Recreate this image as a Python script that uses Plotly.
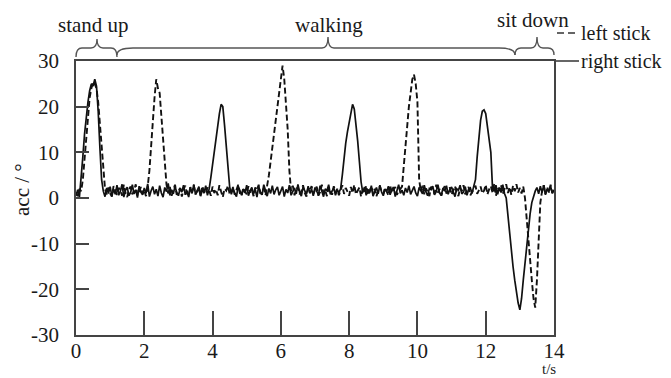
import plotly.graph_objects as go

# ---- data (one row = one second, step 0.05 s) ----
right_stick = (
    [0.5, 1.8, 0.2, 4, 9, 14, 18, 21, 23.5, 25, 24.5, 26, 24.5, 19, 11, 4, 1.5, 0.3, 2.2, 1.0]
    + [2.5, 0.4, 1.9, 0.8, 2.8, 0.6, 1.5, 3.0, 0.2, 1.7, 2.4, 0.5, 1.2, 2.9, 0.9, 1.8, 0.1, 2.6, 1.3, 0.7]
    + [2.2, 1.0, 3.1, 0.3, 1.6, 2.5, 0.8, 1.9, 0.4, 2.7, 1.1, 0.2, 2.3, 1.4, 3.2, 0.6, 1.8, 0.9, 2.6, 1.2]
    + [0.5, 2.1, 1.3, 2.8, 0.7, 1.6, 0.2, 2.4, 1.0, 3.0, 0.8, 1.7, 2.5, 0.4, 1.9, 1.1, 2.7, 0.6, 2.0, 4.5]
    + [7.5, 10.5, 13.5, 16.5, 18.5, 20.5, 20, 16, 11, 6, 2.5, 0.8, 2.2, 1.0, 0.3, 2.6, 1.4, 0.6, 2.0, 1.1]
    + [2.8, 0.5, 1.6, 2.3, 0.9, 1.9, 0.2, 2.6, 1.3, 0.7, 2.9, 1.5, 0.4, 2.1, 1.0, 2.7, 0.8, 1.8, 2.4, 0.6]
    + [1.7, 2.5, 0.3, 1.9, 1.1, 2.8, 0.6, 1.4, 2.2, 0.9, 3.0, 1.2, 0.4, 2.4, 1.6, 0.8, 2.6, 1.0, 1.9, 0.5]
    + [2.3, 1.4, 0.7, 2.7, 1.2, 0.3, 2.0, 1.6, 2.9, 0.8, 1.5, 2.2, 0.6, 1.8, 1.2, 2.0, 5.0, 9.0, 12.0, 14.5]
    + [16.5, 19, 20.5, 19.5, 16.5, 12.5, 8, 3.5, 1.2, 2.4, 0.6, 1.9, 1.1, 2.7, 0.4, 1.6, 2.3, 0.9, 2.8, 1.3]
    + [0.5, 2.0, 1.4, 2.6, 0.7, 1.8, 2.4, 0.3, 1.5, 2.9, 1.0, 1.7, 0.6, 2.2, 1.2, 2.7, 0.8, 1.9, 2.5, 1.1]
    + [0.4, 2.3, 1.6, 0.9, 2.8, 1.3, 0.5, 2.1, 1.8, 2.6, 0.7, 1.4, 2.9, 1.0, 0.6, 2.2, 1.5, 2.7, 0.8, 1.9]
    + [2.4, 1.1, 0.3, 2.0, 1.7, 2.8, 0.9, 1.3, 2.5, 0.6, 1.9, 2.2, 1.0, 2.6, 4, 9, 14, 17, 19, 19.3]
    + [18.5, 16, 13, 10, 2, 1.5, 2.8, 0.8, 2.3, 1.2, 2.9, 1.0, 0, -4, -8, -12, -15, -18, -21, -23]
    + [-24.5, -22, -18, -14, -10, -7, -3.5, -1, 0.5, 1.5, 2.3, 0.9, 2.6, 1.2, 2.8, 0.7, 2.0, 1.4, 2.6, 1.0]
    + [1.8]
)

left_stick = (
    [1.2, 0.4, 2.0, 1.5, 4, 9, 14, 19, 22, 24, 25.5, 25, 24, 21, 16, 10, 5, 2, 0.8, 2.3]
    + [1.0, 0.3, 2.6, 1.4, 0.7, 2.2, 1.8, 0.5, 2.9, 1.1, 0.2, 1.9, 2.5, 0.8, 1.6, 3.0, 0.6, 1.3, 2.4, 0.9]
    + [1.7, 0.4, 2.5, 6, 12, 18, 22, 26, 24, 23, 18, 12, 6, 3, 1.0, 2.4, 0.5, 1.8, 2.9, 0.7]
    + [1.5, 2.2, 0.3, 1.9, 2.7, 1.0, 0.6, 2.4, 1.3, 2.8, 0.8, 1.6, 2.1, 0.4, 2.6, 1.2, 0.9, 2.3, 1.7, 0.5]
    + [2.5, 1.1, 1.9, 0.6, 2.8, 1.4, 0.2, 2.0, 1.6, 2.7, 0.9, 1.3, 2.4, 0.7, 1.8, 2.9, 1.0, 0.5, 2.2, 1.5]
    + [0.8, 2.6, 1.2, 1.9, 0.4, 2.3, 1.7, 2.9, 0.9, 1.4, 2.1, 0.6, 2.5, 5, 8, 11, 14, 17, 20, 23]
    + [26, 29, 26, 21, 15, 6, 1.5, 2.7, 0.6, 1.9, 2.4, 0.8, 1.5, 2.8, 1.1, 0.3, 2.2, 1.6, 2.6, 0.9]
    + [1.8, 2.5, 0.5, 1.3, 2.9, 1.0, 1.7, 0.4, 2.3, 1.9, 0.7, 2.6, 1.2, 2.0, 0.6, 1.5, 2.8, 0.9, 2.2, 1.4]
    + [0.5, 2.4, 1.1, 2.9, 0.8, 1.6, 2.3, 0.3, 1.9, 1.2, 2.7, 0.6, 1.4, 2.5, 1.0, 2.0, 0.4, 1.8, 2.6, 1.3]
    + [0.9, 2.2, 1.5, 0.6, 2.8, 1.1, 1.9, 2.4, 0.7, 1.6, 2.0, 2.5, 7, 12, 16, 20, 23, 26, 27, 25]
    + [21, 4, 1.5, 2.7, 0.8, 2.1, 1.3, 0.4, 2.5, 1.7, 0.9, 2.9, 1.2, 2.0, 0.5, 1.8, 2.6, 1.0, 1.6, 2.3]
    + [0.7, 1.9, 2.6, 1.1, 0.4, 2.2, 1.5, 2.8, 0.8, 1.7, 2.4, 0.6, 1.3, 2.0, 2.7, 0.9, 1.8, 2.5, 1.0, 1.6]
    + [2.9, 0.8, 1.9, 2.6, 1.2, 3.1, 0.5, 2.3, 1.6, 2.8, 0.9, 2.0, 3.0, 1.1, 2.4, 0.7, 2.7, 1.5, 3.0, 1.2]
    + [2.2, 1.0, 2.5, 0, -5, -10, -14, -18, -22, -24, -18, -9, -1, 1.5, 2.8, 0.9, 2.4, 1.2, 2.9, 1.1]
    + [2.0]
)

STEP = 0.05
time_s = [round(i * STEP, 2) for i in range(len(right_stick))]
time_l = [round(i * STEP, 2) for i in range(len(left_stick))]

x_ticks = [0, 2, 4, 6, 8, 10, 12, 14]
y_ticks = [-30, -20, -10, 0, 10, 20, 30]
y_tick_text = ["-30", "-20", "-10", "0", "10", "20", "30"]

phases = ["stand up", "walking", "sit down"]
series_names = ["left stick", "right stick"]

# ---- layout geometry (window pixels; page body has an 8px margin) ----
W, H = 671, 378
OFF = 8
L, R, T, B = 76, 554, 61, 335   # plot box in window pixels
FONT = "Liberation Serif"
AX = "#444444"
INK = "#111111"
TXT = "#1a1a1a"
FS = 21


def fx(p):
    return (p - L) / (R - L)


def fy(p):
    return (B - p) / (B - T)


def brace(x0, x1, xm, yb, yh, yp, r0, r1):
    pts = [
        ("M", [(x0, yb)]),
        ("Q", [(x0, yh), (x0 + r0, yh)]),
        ("L", [(xm - 6, yh)]),
        ("Q", [(xm, yh), (xm, yp)]),
        ("Q", [(xm, yh), (xm + 6, yh)]),
        ("L", [(x1 - r1, yh)]),
        ("Q", [(x1, yh), (x1, yb)]),
    ]
    s = ""
    for cmd, ps in pts:
        s += cmd + " " + " ".join(f"{fx(a):.5f},{fy(b):.5f}" for a, b in ps) + " "
    return s.strip()


fig = go.Figure()
fig.add_trace(go.Scatter(x=time_s, y=right_stick, mode="lines", name=series_names[1],
                         line=dict(color=INK, width=1.7)))
fig.add_trace(go.Scatter(x=time_l, y=left_stick, mode="lines", name=series_names[0],
                         line=dict(color=INK, width=1.9, dash="6px,3px")))

shapes = []
for path in [
    brace(76, 117, 97, 57, 48, 39, 6, 6),
    brace(117, 515, 328, 55, 48, 37, 16, 16),
    brace(515, 554, 537, 55, 48, 37, 6, 6),
]:
    shapes.append(dict(type="path", xref="paper", yref="paper", path=path,
                       line=dict(color="#555555", width=1.4)))
# legend keys
shapes.append(dict(type="line", xref="paper", yref="paper", x0=fx(557), x1=fx(578),
                   y0=fy(33), y1=fy(33), line=dict(color="#333333", width=1.5, dash="7px,4px")))
shapes.append(dict(type="line", xref="paper", yref="paper", x0=fx(556), x1=fx(579),
                   y0=fy(61), y1=fy(61), line=dict(color="#333333", width=1.5)))

annotations = []


def txt(s, x, y, xanchor="center", yanchor="middle", angle=0, size=FS):
    annotations.append(dict(text=s, x=fx(x), y=fy(y), xref="paper", yref="paper",
                            xanchor=xanchor, yanchor=yanchor, showarrow=False,
                            borderpad=0, textangle=angle,
                            font=dict(family=FONT, size=size, color=TXT)))


txt(phases[0], 93, 25)
txt(phases[1], 329, 25)
txt(phases[2], 533, 20)
txt(series_names[0], 580, 33, xanchor="left", size=20)
txt(series_names[1], 580, 61, xanchor="left", size=20)
txt("acc / °", 22, 190, angle=-90)
txt("t/s", 549, 359.5, yanchor="top", size=15)

fig.update_layout(
    width=W, height=H,
    margin=dict(l=L - OFF, r=W - R + OFF, t=T - OFF, b=H - B + OFF, pad=0),
    paper_bgcolor="white", plot_bgcolor="white",
    showlegend=False,
    shapes=shapes, annotations=annotations,
    font=dict(family=FONT, size=FS, color=TXT),
)
fig.update_xaxes(range=[0, 14], tickvals=x_ticks, ticks="inside", ticklen=24, tickwidth=1.5,
                 tickcolor=AX, showline=True, linecolor=AX, linewidth=1.5, mirror=True,
                 showgrid=False, zeroline=False, ticklabelstandoff=-4,
                 tickfont=dict(family=FONT, size=FS, color=TXT))
fig.update_yaxes(range=[-30, 30], tickvals=y_ticks, ticktext=y_tick_text, ticks="inside",
                 ticklen=13, tickwidth=1.5, tickcolor=AX, showline=True, linecolor=AX,
                 linewidth=1.5, mirror=True, showgrid=False, zeroline=False,
                 ticklabelstandoff=11,
                 tickfont=dict(family=FONT, size=FS, color=TXT))

fig.write_html("out.html")
